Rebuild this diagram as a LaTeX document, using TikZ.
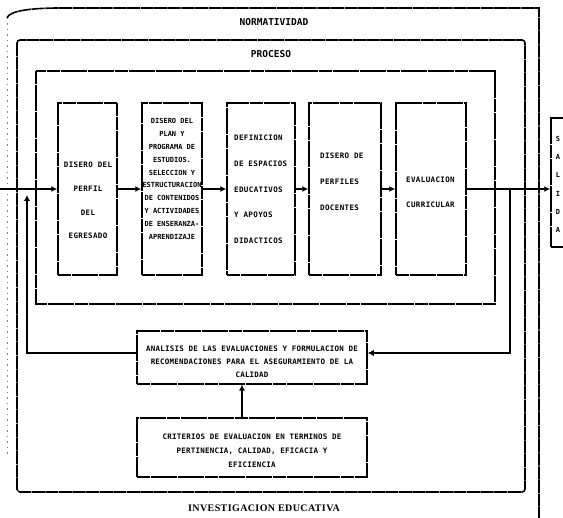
\documentclass[tikz,border=0pt]{standalone}
\usepackage{fontspec}
\setmainfont{Liberation Serif}
\newfontfamily\dfont{DejaVu Sans Mono Bold}[LetterSpace=5]
\newfontfamily\dfontb{DejaVu Sans Mono Bold}[LetterSpace=3]
\newfontfamily\dfontn{DejaVu Sans Mono Bold}
\newfontfamily\serfont{Liberation Serif Bold}[LetterSpace=4]
\usetikzlibrary{arrows.meta}
\begin{document}
\begin{tikzpicture}[x=1pt,y=-1pt,
  frame/.style={draw, line width=1.6pt, dash pattern=on 13pt off 0.6pt},
  box/.style={draw, line width=1.5pt, dash pattern=on 13pt off 0.6pt, inner sep=0pt},
  txt/.style={inner sep=0pt, align=center},
  ttl/.style={inner sep=0pt, font=\dfontn\fontsize{9.5}{10}\selectfont},
  flow/.style={line width=2.4pt, -{Latex[length=6pt,width=6pt]}},
  fba/.style={line width=2.8pt, -{Latex[length=6pt,width=6.5pt]}},
]
\useasboundingbox (0,0) rectangle (563,518);

% frames
\draw[frame] (7,18) .. controls (9,11) and (30,8) .. (60,8) -- (539,8) -- (539,518);
\draw[gray, line width=0.8pt, dash pattern=on 1.5pt off 4pt] (7,18) -- (7,455);
\draw[frame, rounded corners=3pt] (17,40) rectangle (525,492);
\draw[frame] (36,71) rectangle (495,304);

% titles
\node[ttl] (norm) at (274,22) {NORMATIVIDAD};
\node[ttl] (proc) at (271,54) {PROCESO};
\node[inner sep=0pt, font=\serfont\fontsize{10}{12}\selectfont] (inv) at (264,508) {INVESTIGACION EDUCATIVA};

% process boxes
\node[box, minimum width=59pt, minimum height=172pt] (b1) at (87.5,189) {};
\node[box, minimum width=60pt, minimum height=172pt] (b2) at (172,189) {};
\node[box, minimum width=68pt, minimum height=172pt] (b3) at (261,189) {};
\node[box, minimum width=72pt, minimum height=172pt] (b4) at (345,189) {};
\node[box, minimum width=70pt, minimum height=172pt] (b5) at (431,189) {};

\node[txt, font=\dfont\fontsize{7.5}{23.7}\selectfont] (t1) at (88,200.5)
  {DISERO DEL\\PERFIL\\DEL\\EGRESADO};
\node[txt, font=\dfontn\fontsize{7}{12.9}\selectfont] (t2) at (172,179)
  {DISERO DEL\\PLAN Y\\PROGRAMA DE\\ESTUDIOS.\\SELECCION Y\\ESTRUCTURACION\\DE CONTENIDOS\\Y ACTIVIDADES\\DE ENSERANZA-\\APRENDIZAJE};
\node[txt, align=left, anchor=west, font=\dfont\fontsize{7.5}{25.75}\selectfont] (t3) at (234,189.5)
  {DEFINICION\\DE ESPACIOS\\EDUCATIVOS\\Y APOYOS\\DIDACTICOS};
\node[txt, align=left, anchor=west, font=\dfont\fontsize{7.5}{25.8}\selectfont] (t4) at (320,182)
  {DISERO DE\\PERFILES\\DOCENTES};
\node[txt, align=left, anchor=west, font=\dfont\fontsize{7.5}{25}\selectfont] (t5) at (406,192.5)
  {EVALUACION\\CURRICULAR};

% salida
\node[box, minimum width=24pt, minimum height=129pt] (sal) at (563,182.5) {};
\node[txt, font=\dfontn\fontsize{7}{18.2}\selectfont] (tsal) at (558,184.5)
  {S\\A\\L\\I\\D\\A};

% analysis boxes
\node[box, minimum width=230pt, minimum height=53pt] (an) at (252,357.5) {};
\node[txt, font=\dfontb\fontsize{7.5}{13}\selectfont] (tan) at (252,362)
  {ANALISIS DE LAS EVALUACIONES Y FORMULACION DE\\RECOMENDACIONES PARA EL ASEGURAMIENTO DE LA\\CALIDAD};
\node[box, minimum width=230pt, minimum height=59pt] (cr) at (252,447.5) {};
\node[txt, font=\dfontb\fontsize{7.5}{14}\selectfont] (tcr) at (252,451)
  {CRITERIOS DE EVALUACION EN TERMINOS DE\\PERTINENCIA, CALIDAD, EFICACIA Y\\EFICIENCIA};

% connectors
\coordinate (in) at (0,189);
\draw[flow] (in) -- (b1.west);
\draw[flow] (b1) -- (b2);
\draw[flow] (b2) -- (b3);
\draw[flow] (b3) -- (b4);
\draw[flow] (b4) -- (b5);
\draw[flow] (b5.east) -- (b5.east -| sal.west);

\coordinate (rj) at (510,189);
\coordinate (lc) at (27,195);
\coordinate (vx) at (242,0);
\draw[fba] (rj) |- ([yshift=4.5pt]an.east);
\draw[fba] ([yshift=4.5pt]an.west) -| (lc);
\draw[fba] (cr.north -| vx) -- (an.south -| vx);
\end{tikzpicture}
\end{document}
